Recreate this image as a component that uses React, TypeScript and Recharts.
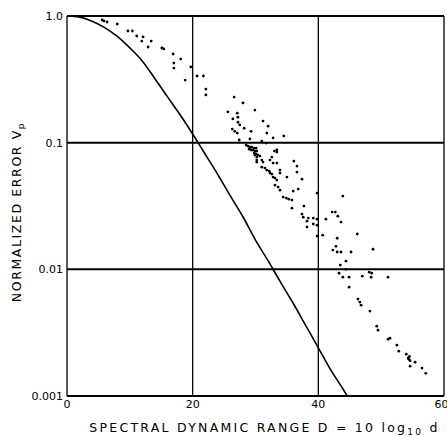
import { CartesianGrid, ComposedChart, Line, Scatter, XAxis, YAxis } from "recharts";

// theoretical curve
const curveD = [0, 2, 4, 6, 8, 10, 12, 14, 16, 18, 20, 22, 24, 26, 28, 30, 32, 34, 36, 38, 40, 42, 44, 44.6];
const curveV = [1, 0.98, 0.91, 0.81, 0.69, 0.56, 0.44, 0.32, 0.23, 0.166, 0.117, 0.081, 0.056, 0.038, 0.026, 0.017, 0.0117, 0.0079, 0.0054, 0.0036, 0.0024, 0.0016, 0.00112, 0.001];

// measured points
const pointD = [
  5.6, 5.9, 6.4, 8.0, 9.7, 10.4, 11.1, 12.1, 11.9, 13.4, 12.9, 15.1, 15.4, 16.9, 17.0, 17.0, 18.1, 19.7, 18.8, 20.7,
  21.7, 22.1, 22.1, 26.6, 28.0, 25.6, 27.1, 27.2, 29.9, 26.4, 27.2, 27.5, 28.2, 31.2, 32.0, 26.3, 27.1, 26.7, 29.3, 31.8,
  34.5, 27.4, 29.1, 31.0, 31.7, 32.8, 28.5, 28.8, 29.1, 29.4, 29.8, 30.1, 29.0, 29.3, 29.6, 29.9, 30.2, 29.8, 30.1, 30.4,
  29.9, 30.7, 30.2, 30.2, 30.2, 31.0, 31.2, 33.0, 33.4, 33.4, 32.6, 32.3, 32.8, 33.4, 31.0, 31.5, 31.8, 32.2, 32.3, 32.6,
  32.8, 33.1, 33.4, 33.9, 33.9, 36.1, 36.6, 36.6, 37.4, 35.0, 33.1, 33.6, 33.9, 36.0, 36.8, 34.4, 34.9, 35.3, 35.8, 35.8,
  37.7, 37.4, 37.6, 38.4, 39.2, 39.8, 38.2, 39.2, 38.2, 39.8, 39.8, 39.8, 40.7, 41.2, 42.2, 42.7, 43.1, 43.6, 43.9, 46.2,
  43.0, 42.8, 42.3, 43.0, 43.6, 45.2, 48.7, 44.4, 43.5, 44.4, 43.3, 43.9, 44.9, 47.0, 48.1, 48.5, 48.4, 51.1, 44.9, 46.3,
  46.6, 46.8, 48.2, 49.3, 49.5, 51.1, 51.4, 52.5, 52.8, 54.0, 54.4, 54.6, 54.3, 54.5, 55.4, 54.6, 56.5, 57.1,
];
const pointV = [
  0.93, 0.913, 0.897, 0.865, 0.761, 0.761, 0.695, 0.683, 0.634, 0.634, 0.569, 0.559, 0.55, 0.501, 0.425, 0.388, 0.457, 0.396, 0.312, 0.336,
  0.336, 0.265, 0.238, 0.229, 0.206, 0.175, 0.171, 0.159, 0.181, 0.154, 0.145, 0.138, 0.13, 0.148, 0.135, 0.128, 0.119, 0.123, 0.123, 0.119,
  0.113, 0.105, 0.107, 0.103, 0.0993, 0.109, 0.0957, 0.094, 0.0923, 0.0923, 0.0906, 0.0906, 0.0889, 0.0875, 0.0875, 0.0859, 0.0859, 0.0828, 0.0813, 0.0798,
  0.0798, 0.0783, 0.0769, 0.0729, 0.0703, 0.0729, 0.0703, 0.0859, 0.0875, 0.0843, 0.0769, 0.0729, 0.069, 0.069, 0.0641, 0.063, 0.0608, 0.0597, 0.0575, 0.0565,
  0.0535, 0.0525, 0.0507, 0.0608, 0.0575, 0.0716, 0.0653, 0.0586, 0.0515, 0.0535, 0.0462, 0.0446, 0.0422, 0.0415, 0.043, 0.0372, 0.0365, 0.0358, 0.0352, 0.0304,
  0.0316, 0.0273, 0.0258, 0.0254, 0.0254, 0.0249, 0.024, 0.0228, 0.0216, 0.0223, 0.04, 0.0183, 0.0186, 0.0249, 0.0283, 0.0283, 0.0263, 0.0236, 0.0379, 0.019,
  0.0176, 0.0152, 0.0142, 0.0137, 0.0137, 0.0137, 0.0144, 0.0116, 0.0108, 0.01, 0.00933, 0.00867, 0.00867, 0.00883, 0.0095, 0.00933, 0.00867, 0.00867, 0.00723, 0.00582,
  0.00551, 0.00521, 0.00468, 0.00356, 0.00331, 0.00281, 0.00286, 0.00252, 0.00226, 0.00214, 0.00195, 0.0019, 0.002, 0.00205, 0.00185, 0.00172, 0.00166, 0.00151,
];

const xTicks = [0, 20, 40, 60];
const yTicks = [0.001, 0.01, 0.1, 1];
const yTickLabels = ["0.001", "0.01", "0.1", "1.0"];

const curve = curveD.map((d, i) => ({ d, v: curveV[i] }));
const points = pointD.map((d, i) => ({ d, v: pointV[i] }));

const font = "'DejaVu Sans', sans-serif";

function Dot(props: any) {
  return <circle cx={props.cx} cy={props.cy} fill="#000" r={1.4} />;
}

function XLabel(props: any) {
  const vb = props.viewBox;
  return (
    <text fill="#000" fontFamily={font} fontSize={12.5} letterSpacing={2.25} textAnchor="middle" x={vb.x + vb.width / 2 + 9} y={vb.y + 36}>
      SPECTRAL  DYNAMIC  RANGE  D = 10 log<tspan dy={3} fontSize={9}>10</tspan><tspan dy={-3}> d</tspan>
    </text>
  );
}

function YLabel(props: any) {
  const vb = props.viewBox;
  const cx = vb.x + 21;
  const cy = vb.y + vb.height / 2 + 6;
  return (
    <text fill="#000" fontFamily={font} fontSize={12.5} letterSpacing={1.6} textAnchor="middle" transform={`rotate(-90 ${cx} ${cy})`} x={cx} y={cy}>
      NORMALIZED  ERROR  V<tspan dy={3} fontSize={9}>p</tspan>
    </text>
  );
}

export default function App() {
  return (
    <div style={{ position: "fixed", left: 0, top: 0, width: 447, height: 436, background: "#fff" }}>
      <ComposedChart height={436} margin={{ top: 16, right: 3, bottom: 0, left: 0 }} width={447}>
        <CartesianGrid horizontal={false} stroke="#000" strokeWidth={1.3} />
        <CartesianGrid stroke="#000" strokeWidth={2} vertical={false} />
        <XAxis
          allowDataOverflow
          axisLine={false}
          dataKey="d"
          domain={[0, 60]}
          height={40}
          label={<XLabel />}
          tick={{ fill: "#000", fontFamily: font, fontSize: 11 }}
          tickLine={false}
          tickMargin={0}
          tickSize={4}
          ticks={xTicks}
          type="number"
        />
        <YAxis
          allowDataOverflow
          axisLine={false}
          dataKey="v"
          domain={[0.001, 1]}
          label={<YLabel />}
          scale="log"
          tick={{ fill: "#000", fontFamily: font, fontSize: 11 }}
          tickFormatter={(v: number) => yTickLabels[yTicks.indexOf(v)] ?? String(v)}
          tickLine={false}
          tickMargin={0}
          tickSize={4}
          ticks={yTicks}
          type="number"
          width={67}
        />
        <Line data={curve} dataKey="v" dot={false} isAnimationActive={false} stroke="#000" strokeWidth={1.6} type="monotone" />
        <Scatter data={points} dataKey="v" isAnimationActive={false} shape={<Dot />} />
      </ComposedChart>
    </div>
  );
}
